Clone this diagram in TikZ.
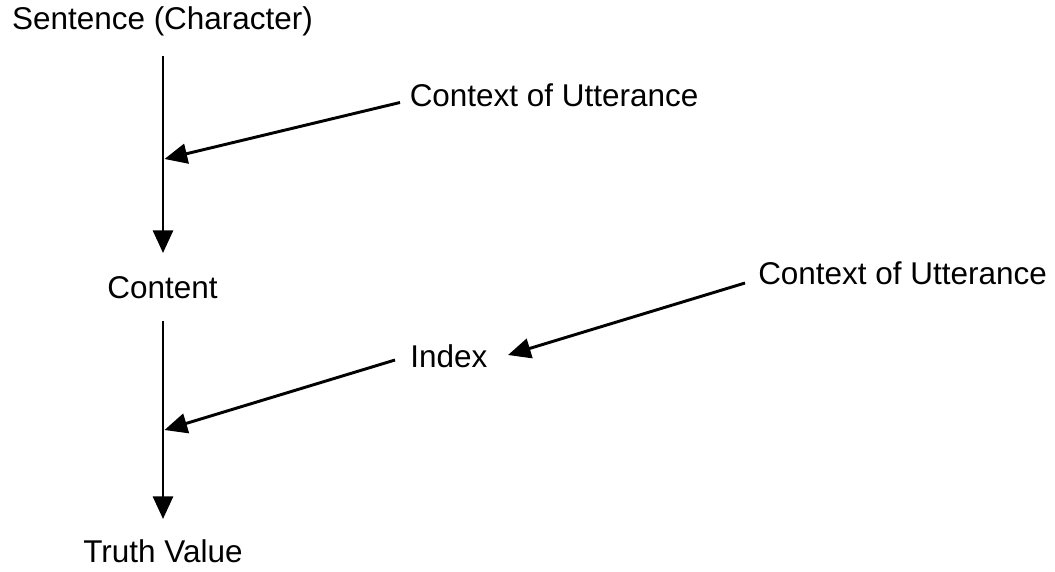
\documentclass[tikz,border=0pt]{standalone}
\usepackage{fontspec}
\setmainfont{Liberation Sans}
\usetikzlibrary{arrows.meta}
\tikzset{
  lbl/.style={anchor=base west, inner sep=0pt, font=\fontsize{23.6pt}{28pt}\selectfont},
  clbl/.style={lbl, anchor=base},
  arr/.style={line width=2.2pt, -{Triangle[length=17pt,width=15pt]}}
}
\begin{document}
\begin{tikzpicture}[x=0.75pt,y=-0.75pt]
\useasboundingbox (0,0) rectangle (1055,571);
\node[clbl] (sent) at (162.5,29.5) {Sentence (Character)};
\node[lbl] (ctx1) at (409.5,106.5) {Context of Utterance};
\node[clbl] (cont) at (162.5,298) {Content};
\node[lbl] (ctx2) at (758,284.5) {Context of Utterance};
\node[lbl] (idx) at (410,367.5) {Index};
\node[clbl] (truth) at (163,562.5) {Truth Value};
% connector end points
\coordinate (a1s) at (163,56);
\coordinate (a1e) at (163,253);
\coordinate (b1s) at (400,102.5);
\coordinate (b1e) at (164.5,159);
\coordinate (a2s) at (163,321);
\coordinate (a2e) at (163,519);
\coordinate (c2s) at (745,283);
\coordinate (c2e) at (508,355);
\coordinate (b2s) at (395,360);
\coordinate (b2e) at (164.5,430);
\draw[arr] (a1s) -- (a1e);
\draw[arr] (b1s) -- (b1e);
\draw[arr] (a2s) -- (a2e);
\draw[arr] (c2s) -- (c2e);
\draw[arr] (b2s) -- (b2e);
\end{tikzpicture}
\end{document}
